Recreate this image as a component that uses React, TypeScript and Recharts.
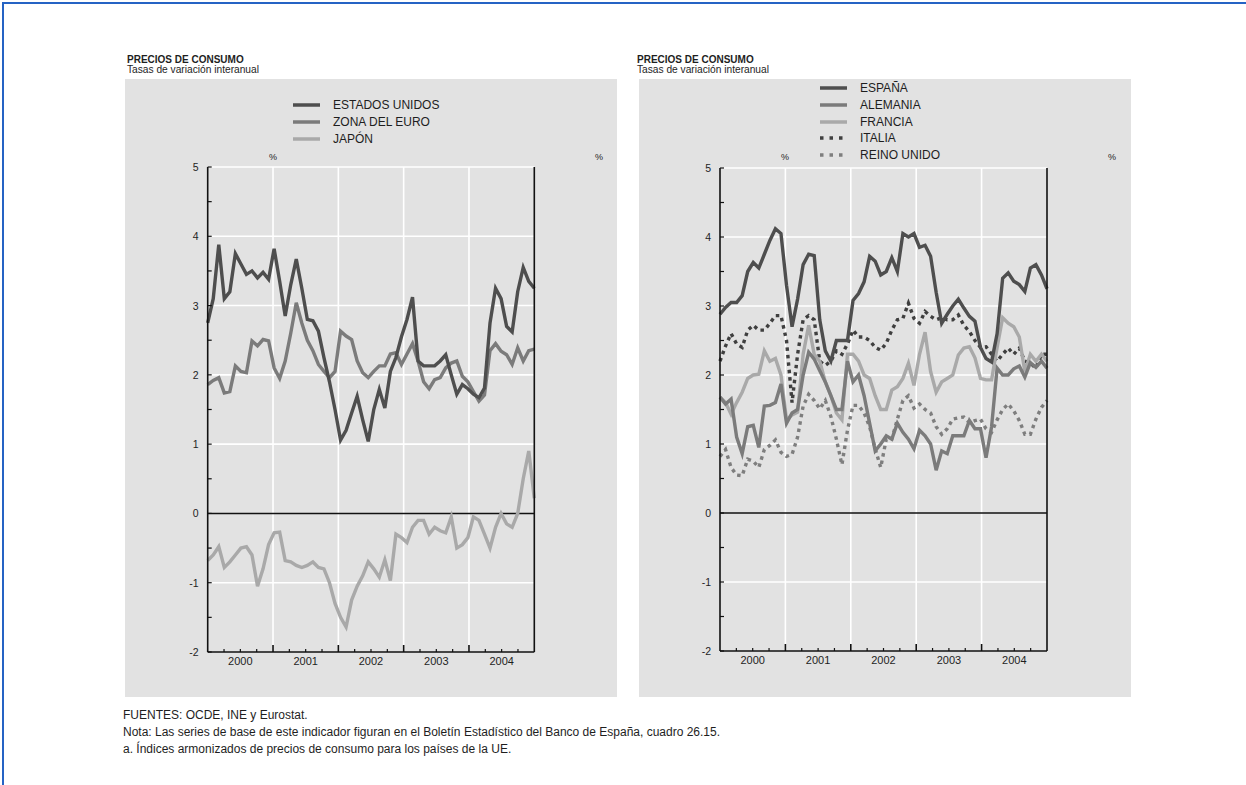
import React from 'react';
import { LineChart, Line, XAxis, YAxis, ReferenceLine } from 'recharts';

// Monthly series, Jan 2000 - Dec 2004 (year-on-year % change)
const YEARS = ['2000', '2001', '2002', '2003', '2004'];

const ESTADOS_UNIDOS = [
  2.75, 3.1, 3.88, 3.1, 3.2, 3.75, 3.6, 3.45, 3.5, 3.4, 3.48, 3.38,
  3.82, 3.35, 2.85, 3.3, 3.67, 3.25, 2.8, 2.78, 2.63, 2.25, 1.9, 1.5,
  1.06, 1.2, 1.45, 1.69, 1.35, 1.04, 1.5, 1.79, 1.52, 2.05, 2.25, 2.55,
  2.8, 3.12, 2.2, 2.13, 2.13, 2.13, 2.2, 2.29, 2.0, 1.72, 1.86, 1.8,
  1.72, 1.67, 1.81, 2.75, 3.25, 3.1, 2.7, 2.62, 3.2, 3.55, 3.35, 3.25,
];
const ZONA_EURO = [
  1.86, 1.92, 1.96, 1.74, 1.76, 2.13, 2.05, 2.03, 2.49, 2.42, 2.51, 2.49,
  2.1, 1.95, 2.2, 2.6, 3.04, 2.75, 2.5, 2.35, 2.15, 2.05, 1.96, 2.05,
  2.63, 2.56, 2.51, 2.2, 2.03, 1.96, 2.05, 2.13, 2.13, 2.3, 2.32, 2.15,
  2.3, 2.45, 2.2, 1.9, 1.8, 1.93, 1.96, 2.1, 2.17, 2.2, 1.98, 1.9,
  1.76, 1.62, 1.71, 2.35, 2.45, 2.34, 2.29, 2.15, 2.39, 2.2, 2.35, 2.37,
];
const JAPON = [
  -0.68, -0.6, -0.48, -0.78, -0.7, -0.6, -0.5, -0.48, -0.6, -1.05, -0.8, -0.45,
  -0.28, -0.27, -0.68, -0.7, -0.75, -0.78, -0.75, -0.7, -0.78, -0.8, -1.0, -1.3,
  -1.5, -1.64, -1.25, -1.05, -0.9, -0.7, -0.8, -0.92, -0.67, -0.97, -0.3, -0.35,
  -0.42, -0.2, -0.1, -0.1, -0.3, -0.2, -0.25, -0.28, -0.05, -0.5, -0.45, -0.35,
  -0.05, -0.1, -0.3, -0.5, -0.2, 0.0, -0.15, -0.2, 0.0, 0.5, 0.9, 0.22,
];

const ESPANA = [
  2.88, 2.98, 3.05, 3.05, 3.15, 3.5, 3.63, 3.55, 3.75, 3.95, 4.12, 4.05,
  3.3, 2.7, 3.1, 3.6, 3.75, 3.73, 2.8, 2.35, 2.2, 2.5, 2.5, 2.5,
  3.08, 3.18, 3.35, 3.72, 3.65, 3.45, 3.5, 3.7, 3.5, 4.05, 4.0, 4.05,
  3.85, 3.88, 3.72, 3.2, 2.75, 2.88, 3.0, 3.1, 2.97, 2.85, 2.78, 2.4,
  2.24, 2.19, 2.6, 3.4, 3.48, 3.36, 3.31, 3.21, 3.55, 3.6, 3.45, 3.25,
];
const ALEMANIA = [
  1.68, 1.58, 1.65, 1.1, 0.86, 1.25, 1.27, 0.95, 1.55, 1.56, 1.6, 1.87,
  1.3, 1.45, 1.5, 2.0, 2.33, 2.23, 2.06, 1.9, 1.7, 1.5, 1.5, 2.2,
  1.9, 2.0, 1.7, 1.3, 0.9, 1.0, 1.12, 1.07, 1.3, 1.17, 1.07, 0.93,
  1.2, 1.12, 1.0, 0.62, 0.9, 0.86, 1.12, 1.12, 1.12, 1.34, 1.22, 1.22,
  0.8, 1.25, 2.1, 2.0, 2.0, 2.09, 2.13, 1.97, 2.18, 2.11, 2.2, 2.1,
];
const FRANCIA = [
  1.68, 1.6, 1.43, 1.6, 1.75, 1.95, 2.0, 2.01, 2.35, 2.2, 2.24, 2.0,
  1.35, 1.42, 1.46, 2.3, 2.72, 2.3, 2.2, 1.9, 1.7, 1.45, 1.35, 2.3,
  2.3, 2.2, 2.0, 1.95, 1.7, 1.5, 1.5, 1.78, 1.83, 1.95, 2.17, 1.85,
  2.3, 2.62, 2.05, 1.75, 1.9, 1.95, 2.0, 2.29, 2.39, 2.41, 2.25, 1.95,
  1.93, 1.93, 2.4, 2.83, 2.75, 2.7, 2.55, 2.05, 2.3, 2.2, 2.3, 2.2,
];
const ITALIA = [
  2.2, 2.42, 2.6, 2.45, 2.4, 2.65, 2.72, 2.65, 2.65, 2.75, 2.86, 2.86,
  2.5, 1.6, 2.3, 2.8, 2.86, 2.8, 2.2, 2.14, 2.2, 2.35, 2.3, 2.45,
  2.65, 2.55, 2.55, 2.5, 2.4, 2.36, 2.46, 2.65, 2.8, 2.82, 3.04, 2.82,
  2.75, 2.92, 2.85, 2.8, 2.83, 2.8, 2.8, 2.87, 2.72, 2.63, 2.5, 2.4,
  2.41, 2.3, 2.2, 2.3, 2.39, 2.3, 2.39, 2.2, 2.17, 2.1, 2.3, 2.3,
];
const REINO_UNIDO = [
  0.82, 0.92, 0.66, 0.55, 0.54, 0.78, 0.75, 0.66, 0.92, 0.98, 1.06, 0.88,
  0.82, 0.85, 1.1, 1.55, 1.72, 1.63, 1.51, 1.63, 1.4, 1.07, 0.7, 1.2,
  1.56, 1.56, 1.45, 1.25, 0.93, 0.66, 1.07, 1.07, 1.36, 1.63, 1.7, 1.52,
  1.58, 1.5, 1.45, 1.25, 1.14, 1.22, 1.36, 1.38, 1.39, 1.31, 1.34, 1.36,
  1.22, 1.17, 1.35, 1.5, 1.58, 1.48, 1.34, 1.14, 1.14, 1.36, 1.53, 1.63,
];

const Y_TICKS = [-2, -1.5, -1, -0.5, 0, 0.5, 1, 1.5, 2, 2.5, 3, 3.5, 4, 4.5, 5];
const GRID_Y = [-1, 1, 2, 3, 4, 5];
const X_MAX = ESTADOS_UNIDOS.length - 1;
const QUARTER_TICKS = Array.from({ length: 21 }, (_, k) => (k * X_MAX) / 20);
const YEAR_LINES = [1, 2, 3, 4].map((k) => (k * X_MAX) / 5);

const FONT = '"Liberation Sans", Arial, Helvetica, sans-serif';
const INK = '#1e1e1e';
const PANEL_TOP = 79;
const PANEL_H = 618;

const leftData = ESTADOS_UNIDOS.map((v, i) => ({ i, us: v, euro: ZONA_EURO[i], jp: JAPON[i] }));
const rightData = ESPANA.map((v, i) => ({
  i,
  es: v,
  de: ALEMANIA[i],
  fr: FRANCIA[i],
  it: ITALIA[i],
  uk: REINO_UNIDO[i],
}));

type Series = { key: string; name: string; color: string; dotted?: boolean };

const LEFT_SERIES: Series[] = [
  { key: 'jp', name: 'JAPÓN', color: '#a9a9a9' },
  { key: 'euro', name: 'ZONA DEL EURO', color: '#7b7b7b' },
  { key: 'us', name: 'ESTADOS UNIDOS', color: '#4e4e4e' },
];
const RIGHT_SERIES: Series[] = [
  { key: 'uk', name: 'REINO UNIDO', color: '#7e7e7e', dotted: true },
  { key: 'it', name: 'ITALIA', color: '#3f3f3f', dotted: true },
  { key: 'fr', name: 'FRANCIA', color: '#a9a9a9' },
  { key: 'de', name: 'ALEMANIA', color: '#7b7b7b' },
  { key: 'es', name: 'ESPAÑA', color: '#4e4e4e' },
];

const YTickLeft = ({ x, y, payload }: any) => (
  <g>
    <line x1={x} y1={y} x2={x + 4} y2={y} stroke="#111" strokeWidth={1.2} />
    {Number.isInteger(payload.value) && (
      <text x={x - 9} y={y + 4} textAnchor="end" fontSize={10.5} fontFamily={FONT} fill={INK}>
        {payload.value}
      </text>
    )}
  </g>
);

const YTickRight = ({ x, y, payload }: any) => (
  <g>
    <line x1={x} y1={y} x2={x - 4} y2={y} stroke="#111" strokeWidth={1.2} />
    {Number.isInteger(payload.value) && (
      <text x={x + 9} y={y + 4} textAnchor="start" fontSize={10.5} fontFamily={FONT} fill={INK}>
        {payload.value}
      </text>
    )}
  </g>
);

const XTick = ({ x, y, payload }: any) => {
  const k = Math.round((payload.value * 20) / X_MAX);
  const isYear = k % 4 === 0;
  return (
    <g>
      {k > 0 && k < 20 && (
        <line x1={x} y1={y} x2={x} y2={y - (isYear ? 7 : 3)} stroke="#111" strokeWidth={isYear ? 1.6 : 1.2} />
      )}
      {k % 4 === 2 && (
        <text x={x} y={y + 13} textAnchor="middle" fontSize={11} fontFamily={FONT} fill={INK}>
          {YEARS[(k - 2) / 4]}
        </text>
      )}
    </g>
  );
};

const LegendBox: React.FC<{ series: Series[]; left: number; top: number; textLeft: number }> = ({
  series,
  left,
  top,
  textLeft,
}) => (
  <div style={{ position: 'absolute', left, top }}>
    {[...series].reverse().map((s, idx) => (
      <div key={s.key} style={{ position: 'absolute', top: idx * 16.8, left: 0, height: 14, whiteSpace: 'nowrap' }}>
        <svg width={28} height={14} style={{ position: 'absolute', left: 0, top: 0 }}>
          <line
            x1={0}
            y1={7}
            x2={27}
            y2={7}
            stroke={s.color}
            strokeWidth={3.5}
            strokeDasharray={s.dotted ? '3.5 6' : undefined}
          />
        </svg>
        <span
          style={{
            position: 'absolute',
            left: textLeft,
            top: -1,
            fontFamily: FONT,
            fontSize: 12,
            color: INK,
            lineHeight: '16px',
          }}
        >
          {s.name}
        </span>
      </div>
    ))}
  </div>
);

type PanelProps = {
  left: number;
  data: any[];
  series: Series[];
  margin: { top: number; right: number; bottom: number; left: number };
  legend: { left: number; top: number };
  pct: [number, number];
};

const Panel: React.FC<PanelProps> = ({ left, data, series, margin, legend, pct }) => (
  <div style={{ position: 'absolute', left, top: PANEL_TOP, width: 492, height: PANEL_H, background: '#e2e2e2' }}>
    <LineChart width={492} height={PANEL_H} data={data} margin={margin}>
      <XAxis
        dataKey="i"
        type="number"
        domain={[0, X_MAX]}
        ticks={QUARTER_TICKS}
        interval={0}
        tickSize={0}
        tickMargin={0}
        tickLine={false}
        tick={<XTick />}
        height={30}
        axisLine={{ stroke: '#111', strokeWidth: 1.6 }}
      />
      <YAxis
        yAxisId="l"
        orientation="left"
        domain={[-2, 5]}
        ticks={Y_TICKS}
        interval={0}
        width={40}
        tickSize={0}
        tickMargin={0}
        tickLine={false}
        tick={<YTickLeft />}
        axisLine={{ stroke: '#111', strokeWidth: 1.6 }}
      />
      <YAxis
        yAxisId="r"
        orientation="right"
        domain={[-2, 5]}
        ticks={Y_TICKS}
        interval={0}
        width={40}
        tickSize={0}
        tickMargin={0}
        tickLine={false}
        tick={<YTickRight />}
        axisLine={{ stroke: '#111', strokeWidth: 1.6 }}
      />
      {GRID_Y.map((v) => (
        <ReferenceLine key={`gy${v}`} yAxisId="l" y={v} stroke="#ffffff" strokeWidth={1.6} />
      ))}
      {YEAR_LINES.map((v) => (
        <ReferenceLine key={`gx${v}`} yAxisId="l" x={v} stroke="#ffffff" strokeWidth={1.6} />
      ))}
      <ReferenceLine yAxisId="l" y={0} stroke="#111" strokeWidth={1.5} />
      {series.map((s) => (
        <Line
          key={s.key}
          yAxisId="l"
          type="linear"
          dataKey={s.key}
          name={s.name}
          stroke={s.color}
          strokeWidth={3.4}
          strokeDasharray={s.dotted ? '3.5 4' : undefined}
          dot={false}
          activeDot={false}
          isAnimationActive={false}
        />
      ))}
    </LineChart>
    <LegendBox series={series} left={legend.left} top={legend.top} textLeft={40} />
    <span style={{ position: 'absolute', left: pct[0] - 4, top: 73, fontFamily: FONT, fontSize: 9, color: INK }}>%</span>
    <span style={{ position: 'absolute', left: pct[1] - 4, top: 73, fontFamily: FONT, fontSize: 9, color: INK }}>%</span>
  </div>
);

const Title: React.FC<{ left: number }> = ({ left }) => (
  <div style={{ position: 'absolute', left, top: 55, fontFamily: FONT, color: INK, lineHeight: '9.5px' }}>
    <div style={{ fontSize: 10, fontWeight: 700 }}>PRECIOS DE CONSUMO</div>
    <div style={{ fontSize: 10.2 }}>Tasas de variación interanual</div>
  </div>
);

export default function App() {
  return (
    <div style={{ position: 'absolute', left: 0, top: 0, width: 1246, height: 785, background: '#fff', overflow: 'hidden' }}>
      <div style={{ position: 'absolute', left: 2, top: 2, width: 1244, height: 2, background: '#2563c4' }} />
      <div style={{ position: 'absolute', left: 2, top: 2, width: 2, height: 783, background: '#2563c4' }} />

      <Title left={127} />
      <Title left={637} />

      <Panel
        left={125}
        data={leftData}
        series={LEFT_SERIES}
        margin={{ top: 88, right: 42.7, bottom: 15, left: 42.7 }}
        legend={{ left: 168, top: 19 }}
        pct={[148, 474]}
      />
      <Panel
        left={639}
        data={rightData}
        series={RIGHT_SERIES}
        margin={{ top: 89, right: 44, bottom: 16, left: 41 }}
        legend={{ left: 181, top: 2 }}
        pct={[146, 473]}
      />

      <div style={{ position: 'absolute', left: 123, top: 707, fontFamily: FONT, fontSize: 12, color: INK, lineHeight: '17px' }}>
        <div>FUENTES: OCDE, INE y Eurostat.</div>
        <div>Nota: Las series de base de este indicador figuran en el Boletín Estadístico del Banco de España, cuadro 26.15.</div>
        <div>a. Índices armonizados de precios de consumo para los países de la UE.</div>
      </div>
    </div>
  );
}
